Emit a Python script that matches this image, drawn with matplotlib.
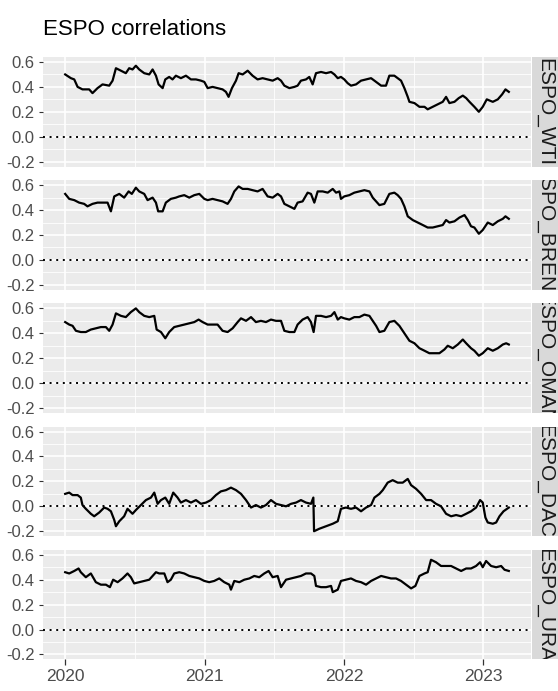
import numpy as np
import matplotlib
matplotlib.use('Agg')
import matplotlib.pyplot as plt

# facet labels (as shown in the strips)
labels = ['ESPO_WTI', 'ESPO_BRENT', 'ESPO_OMAN', 'ESPO_DAC', 'ESPO_URA']

# rolling correlations (decimal years)
wti_t = [2020.000, 2020.041, 2020.065, 2020.089, 2020.124, 2020.172, 2020.196, 2020.232, 2020.268, 2020.316,
         2020.340, 2020.364, 2020.400, 2020.435, 2020.459, 2020.483, 2020.507, 2020.531, 2020.567, 2020.603,
         2020.627, 2020.651, 2020.670, 2020.699, 2020.718, 2020.746, 2020.770, 2020.794, 2020.830, 2020.866,
         2020.902, 2020.938, 2020.974, 2020.998, 2021.022, 2021.057, 2021.093, 2021.129, 2021.153, 2021.172,
         2021.196, 2021.225, 2021.244, 2021.273, 2021.309, 2021.344, 2021.380, 2021.416, 2021.452, 2021.488,
         2021.524, 2021.548, 2021.572, 2021.608, 2021.644, 2021.667, 2021.691, 2021.727, 2021.751, 2021.775,
         2021.799, 2021.835, 2021.871, 2021.907, 2021.931, 2021.955, 2021.978, 2022.002, 2022.026, 2022.050,
         2022.086, 2022.122, 2022.158, 2022.194, 2022.218, 2022.242, 2022.266, 2022.301, 2022.325, 2022.361,
         2022.385, 2022.409, 2022.433, 2022.457, 2022.469, 2022.505, 2022.541, 2022.577, 2022.600, 2022.636,
         2022.672, 2022.708, 2022.732, 2022.756, 2022.792, 2022.823, 2022.852, 2022.876, 2022.900, 2022.935,
         2022.967, 2022.995, 2023.024, 2023.067, 2023.103, 2023.134, 2023.158, 2023.182]
wti_r = [.50, .47, .46, .40, .38, .38, .35, .39, .42, .41,
         .45, .55, .53, .51, .55, .54, .57, .54, .51, .50,
         .54, .49, .42, .39, .46, .48, .46, .49, .47, .49,
         .46, .46, .45, .44, .39, .40, .39, .38, .36, .32,
         .39, .45, .51, .50, .53, .49, .46, .47, .46, .45,
         .47, .45, .41, .39, .40, .41, .45, .46, .48, .42,
         .51, .52, .51, .52, .50, .47, .48, .46, .43, .41,
         .42, .45, .46, .47, .45, .43, .41, .41, .49, .49,
         .47, .45, .39, .32, .28, .27, .24, .24, .22, .24,
         .26, .28, .32, .27, .28, .31, .33, .31, .28, .24,
         .20, .24, .30, .28, .30, .34, .38, .36]

brent_t = [2020.000, 2020.029, 2020.065, 2020.100, 2020.136, 2020.160, 2020.196, 2020.232, 2020.268, 2020.304,
           2020.328, 2020.352, 2020.388, 2020.423, 2020.455, 2020.478, 2020.507, 2020.531, 2020.567, 2020.591,
           2020.627, 2020.651, 2020.667, 2020.699, 2020.722, 2020.758, 2020.794, 2020.818, 2020.854, 2020.890,
           2020.926, 2020.962, 2020.998, 2021.022, 2021.057, 2021.093, 2021.129, 2021.165, 2021.189, 2021.213,
           2021.244, 2021.273, 2021.309, 2021.344, 2021.380, 2021.416, 2021.452, 2021.488, 2021.524, 2021.548,
           2021.572, 2021.608, 2021.644, 2021.667, 2021.703, 2021.739, 2021.763, 2021.787, 2021.811, 2021.847,
           2021.883, 2021.919, 2021.943, 2021.967, 2021.978, 2022.002, 2022.038, 2022.074, 2022.110, 2022.146,
           2022.182, 2022.206, 2022.230, 2022.254, 2022.289, 2022.325, 2022.361, 2022.385, 2022.409, 2022.433,
           2022.457, 2022.493, 2022.529, 2022.565, 2022.600, 2022.636, 2022.672, 2022.708, 2022.732, 2022.756,
           2022.792, 2022.828, 2022.864, 2022.888, 2022.911, 2022.935, 2022.967, 2022.995, 2023.031, 2023.067,
           2023.103, 2023.139, 2023.158, 2023.182]
brent_r = [.53, .49, .48, .46, .45, .43, .45, .46, .46, .46,
           .39, .51, .53, .50, .55, .53, .58, .55, .53, .48,
           .50, .46, .39, .39, .46, .49, .50, .51, .52, .50,
           .52, .53, .49, .48, .49, .48, .47, .45, .49, .55,
           .59, .57, .57, .56, .55, .57, .51, .50, .53, .51,
           .45, .43, .41, .46, .47, .54, .53, .46, .55, .55,
           .54, .57, .54, .55, .49, .51, .52, .54, .55, .56,
           .55, .50, .47, .44, .45, .53, .54, .52, .49, .43,
           .35, .32, .30, .28, .26, .26, .27, .28, .32, .30,
           .31, .34, .36, .32, .27, .26, .21, .24, .30, .28,
           .31, .33, .35, .33]

oman_t = [2020.000, 2020.029, 2020.053, 2020.077, 2020.112, 2020.148, 2020.184, 2020.220, 2020.256, 2020.292,
          2020.316, 2020.340, 2020.364, 2020.400, 2020.435, 2020.471, 2020.507, 2020.531, 2020.567, 2020.603,
          2020.639, 2020.656, 2020.687, 2020.718, 2020.746, 2020.782, 2020.818, 2020.854, 2020.890, 2020.926,
          2020.957, 2020.986, 2021.022, 2021.057, 2021.093, 2021.129, 2021.165, 2021.201, 2021.237, 2021.261,
          2021.297, 2021.333, 2021.368, 2021.404, 2021.440, 2021.476, 2021.512, 2021.548, 2021.572, 2021.608,
          2021.644, 2021.667, 2021.703, 2021.739, 2021.763, 2021.782, 2021.799, 2021.835, 2021.871, 2021.907,
          2021.931, 2021.955, 2021.978, 2022.002, 2022.038, 2022.074, 2022.110, 2022.146, 2022.182, 2022.206,
          2022.230, 2022.254, 2022.289, 2022.325, 2022.361, 2022.397, 2022.421, 2022.445, 2022.469, 2022.505,
          2022.541, 2022.577, 2022.612, 2022.648, 2022.684, 2022.720, 2022.744, 2022.780, 2022.816, 2022.852,
          2022.876, 2022.911, 2022.935, 2022.967, 2022.995, 2023.031, 2023.067, 2023.103, 2023.139, 2023.163,
          2023.182]
oman_r = [.49, .47, .46, .42, .41, .41, .43, .44, .45, .45,
          .42, .47, .56, .54, .53, .57, .60, .57, .54, .53,
          .54, .43, .41, .36, .41, .45, .46, .47, .48, .49,
          .51, .49, .47, .47, .47, .42, .41, .44, .49, .52,
          .50, .53, .49, .50, .49, .51, .50, .50, .42, .41,
          .41, .47, .51, .53, .49, .41, .54, .54, .53, .54,
          .57, .51, .53, .52, .51, .53, .53, .55, .54, .50,
          .46, .41, .42, .49, .50, .46, .42, .38, .34, .32,
          .28, .26, .24, .24, .24, .27, .30, .28, .31, .35,
          .32, .28, .26, .22, .24, .28, .26, .28, .31, .32,
          .31]

dac_t = [2020.000, 2020.029, 2020.053, 2020.089, 2020.112, 2020.124, 2020.148, 2020.184, 2020.208, 2020.244,
         2020.280, 2020.304, 2020.328, 2020.352, 2020.364, 2020.388, 2020.423, 2020.447, 2020.483, 2020.507,
         2020.543, 2020.579, 2020.615, 2020.639, 2020.663, 2020.687, 2020.718, 2020.746, 2020.775, 2020.806,
         2020.830, 2020.866, 2020.902, 2020.938, 2020.974, 2021.010, 2021.045, 2021.081, 2021.117, 2021.153,
         2021.189, 2021.225, 2021.261, 2021.297, 2021.333, 2021.368, 2021.404, 2021.440, 2021.476, 2021.512,
         2021.548, 2021.584, 2021.620, 2021.656, 2021.691, 2021.727, 2021.763, 2021.780, 2021.785, 2021.823,
         2021.871, 2021.919, 2021.955, 2021.978, 2022.014, 2022.050, 2022.086, 2022.122, 2022.158, 2022.194,
         2022.218, 2022.254, 2022.278, 2022.313, 2022.349, 2022.385, 2022.421, 2022.457, 2022.481, 2022.517,
         2022.553, 2022.589, 2022.624, 2022.660, 2022.696, 2022.732, 2022.768, 2022.804, 2022.840, 2022.876,
         2022.911, 2022.947, 2022.976, 2022.995, 2023.014, 2023.031, 2023.067, 2023.091, 2023.115, 2023.144,
         2023.182]
dac_r = [.10, .11, .09, .09, .07, .01, -.02, -.06, -.08, -.05,
         -.01, -.02, -.04, -.11, -.16, -.12, -.08, -.02, -.06, -.03,
         .01, .05, .07, .11, .02, .05, .07, .02, .11, .07,
         .03, .05, .03, .05, .02, .03, .05, .09, .12, .13,
         .15, .13, .10, .05, -.01, .01, -.01, .01, .05, .02,
         .01, .00, .02, .03, .05, .03, .02, .07, -.20, -.18,
         -.16, -.14, -.12, -.02, -.01, -.02, -.01, -.04, -.01, .01,
         .07, .10, .13, .19, .21, .19, .19, .22, .17, .14,
         .10, .05, .05, .02, .00, -.06, -.08, -.07, -.08, -.06,
         -.04, -.01, .05, .03, -.09, -.13, -.14, -.13, -.08, -.04,
         -.01]

ura_t = [2020.000, 2020.029, 2020.065, 2020.096, 2020.112, 2020.148, 2020.184, 2020.220, 2020.256, 2020.292,
         2020.321, 2020.344, 2020.376, 2020.411, 2020.447, 2020.471, 2020.495, 2020.531, 2020.567, 2020.603,
         2020.651, 2020.675, 2020.711, 2020.734, 2020.758, 2020.782, 2020.818, 2020.854, 2020.890, 2020.926,
         2020.962, 2020.998, 2021.033, 2021.069, 2021.105, 2021.141, 2021.177, 2021.189, 2021.213, 2021.249,
         2021.285, 2021.321, 2021.356, 2021.392, 2021.428, 2021.459, 2021.488, 2021.524, 2021.548, 2021.584,
         2021.620, 2021.656, 2021.691, 2021.727, 2021.763, 2021.787, 2021.799, 2021.835, 2021.871, 2021.907,
         2021.919, 2021.955, 2021.978, 2022.014, 2022.050, 2022.086, 2022.122, 2022.158, 2022.194, 2022.230,
         2022.266, 2022.301, 2022.337, 2022.373, 2022.409, 2022.445, 2022.481, 2022.512, 2022.541, 2022.577,
         2022.600, 2022.624, 2022.660, 2022.696, 2022.732, 2022.768, 2022.804, 2022.840, 2022.876, 2022.911,
         2022.947, 2022.976, 2022.995, 2023.019, 2023.055, 2023.091, 2023.127, 2023.151, 2023.182]
ura_r = [.46, .45, .47, .49, .46, .42, .45, .38, .36, .36,
         .34, .40, .38, .41, .45, .42, .37, .38, .39, .40,
         .46, .45, .45, .38, .40, .45, .46, .45, .43, .42,
         .41, .39, .38, .39, .41, .38, .36, .32, .39, .38,
         .40, .41, .43, .42, .45, .47, .42, .43, .34, .40,
         .41, .42, .43, .45, .45, .43, .35, .34, .34, .35,
         .30, .32, .39, .40, .41, .39, .38, .36, .39, .41,
         .43, .42, .41, .41, .39, .36, .33, .35, .43, .45,
         .46, .56, .54, .51, .51, .51, .49, .47, .49, .49,
         .51, .54, .50, .55, .51, .50, .51, .48, .47]

times = [wti_t, brent_t, oman_t, dac_t, ura_t]
values = [wti_r, brent_r, oman_r, dac_r, ura_r]

year_ticks = [2020, 2021, 2022, 2023]
corr_ticks = [-0.2, 0.0, 0.2, 0.4, 0.6]

W, H = 558, 691
plt.rcParams['font.family'] = ['Liberation Sans', 'DejaVu Sans']
fig = plt.figure(figsize=(W / 100, H / 100), dpi=100)

# shared scales with ggplot-like 5% expansion
all_t = np.concatenate([np.array(t) for t in times])
all_v = np.concatenate([np.array(v) for v in values])
tpad = 0.05 * (all_t.max() - all_t.min())
vpad = 0.05 * (all_v.max() - all_v.min())
xlim = (all_t.min() - tpad, all_t.max() + tpad)
ylim = (all_v.min() - vpad, all_v.max() + vpad)

left, right = 43, 531
strip_l, strip_r = 532, 558
top0, ph, step = 57, 109.6, 123.2

for i in range(5):
    top = top0 + i * step
    bottom = 1 - (top + ph) / H
    ax = fig.add_axes([left / W, bottom, (right - left) / W, ph / H])
    ax.set_facecolor('#EBEBEB')
    for s in ax.spines.values():
        s.set_visible(False)
    ax.set_xlim(xlim)
    ax.set_ylim(ylim)
    ax.set_yticks(corr_ticks)
    ax.set_yticklabels(['%.1f' % v for v in corr_ticks])
    ax.set_yticks([-0.1, 0.1, 0.3, 0.5], minor=True)
    ax.set_xticks(year_ticks)
    ax.set_xticks([y + 0.5 for y in year_ticks[:-1]], minor=True)
    ax.set_axisbelow(True)
    ax.grid(which='major', color='white', lw=1.2)
    ax.grid(which='minor', color='white', lw=0.6)
    ax.tick_params(which='minor', length=0)
    ax.tick_params(axis='y', length=3, width=0.8, color='#333333',
                   labelsize=12, labelcolor='#4D4D4D', pad=3)
    if i < 4:
        ax.tick_params(axis='x', length=0, labelbottom=False)
    else:
        ax.tick_params(axis='x', length=4, width=0.9, color='#333333',
                       labelsize=12.5, labelcolor='#4D4D4D', pad=3)
    ax.axhline(0, color='black', lw=1.4, ls=(0, (1, 2.4)))
    ax.plot(times[i], values[i], color='black', lw=1.6)

    # facet strip on the right, label clipped to the strip like ggplot
    sax = fig.add_axes([strip_l / W, bottom, (strip_r - strip_l) / W, ph / H])
    sax.set_facecolor('#D9D9D9')
    sax.set_xticks([])
    sax.set_yticks([])
    for s in sax.spines.values():
        s.set_visible(False)
    sax.text(0.5, 0.5, labels[i], transform=sax.transAxes, rotation=270,
             ha='center', va='center', rotation_mode='anchor', fontsize=15,
             color='#1A1A1A', clip_on=True)

fig.text(left / W, 1 - 35 / H, 'ESPO correlations', fontsize=16, color='black',
         ha='left', va='baseline')

fig.savefig('out.png', dpi=100)
